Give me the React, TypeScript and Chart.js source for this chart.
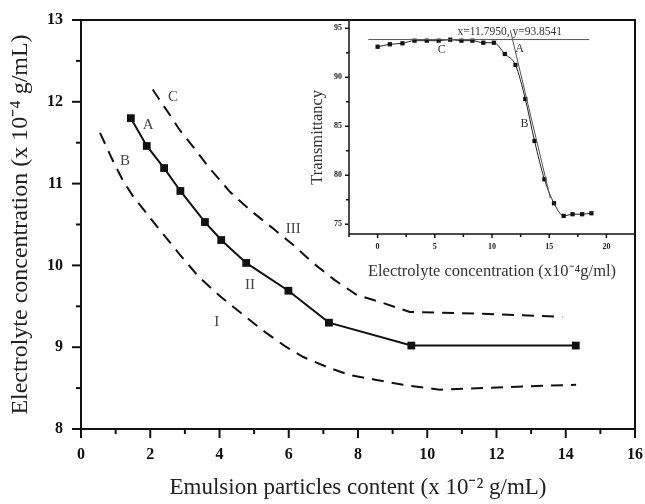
import React, { useEffect, useRef } from "react";
import { Chart, registerables } from "chart.js";

Chart.register(...registerables);

const SERIF = '"Liberation Serif", "Times New Roman", Times, serif';

// ---------- Main chart data ----------
// Curve I (dashed, lower boundary, "B")
const curveIx = [0.55, 0.93, 1.22, 1.51, 1.85, 2.3, 2.86, 3.4, 4.0, 4.7, 5.3, 5.9, 6.42, 7.09, 7.76, 8.53, 9.3, 10.36, 11.6, 12.77, 14.3];
const curveIy = [11.62, 11.27, 11.03, 10.84, 10.66, 10.42, 10.13, 9.86, 9.63, 9.39, 9.19, 9.01, 8.88, 8.76, 8.66, 8.6, 8.54, 8.48, 8.5, 8.52, 8.54];
// Curve II (solid with squares, "A")
const curveIIx = [1.44, 1.9, 2.4, 2.87, 3.58, 4.05, 4.77, 5.99, 7.16, 9.54, 14.29];
const curveIIy = [11.8, 11.46, 11.19, 10.91, 10.53, 10.31, 10.03, 9.69, 9.3, 9.02, 9.02];
// Curve III (dashed, upper boundary, "C")
const curveIIIx = [2.07, 2.47, 2.86, 3.24, 3.67, 4.3, 4.9, 5.55, 6.13, 6.7, 7.33, 7.96, 8.73, 9.5, 11.6, 13.9];
const curveIIIy = [12.15, 11.9, 11.65, 11.45, 11.21, 10.9, 10.67, 10.45, 10.25, 10.03, 9.82, 9.64, 9.54, 9.43, 9.41, 9.37];

const mainNoteText = ["A", "B", "C", "I", "II", "III"];
const mainNoteX = [1.94, 1.27, 2.66, 3.92, 4.88, 6.13];
const mainNoteY = [11.72, 11.27, 12.06, 9.31, 9.76, 10.45];

const mainXTitle = "Emulsion particles content (x 10\u207B\u00B2 g/mL)";
const mainYTitle = "Electrolyte concentration (x 10\u207B\u2074 g/mL)";

// ---------- Inset data ----------
const insetX = [0, 1.07, 2.17, 3.23, 4.3, 5.34, 6.35, 7.33, 8.29, 9.24, 10.16, 11.12, 12.05, 12.91, 13.72, 14.58, 15.42, 16.26, 17.04, 17.88, 18.69];
const insetY = [93.12, 93.37, 93.47, 93.74, 93.74, 93.74, 93.84, 93.74, 93.74, 93.53, 93.53, 92.38, 91.26, 87.79, 83.5, 79.59, 77.14, 75.85, 76.02, 76.02, 76.12];
const plateauX = [-0.81, 18.5];
const plateauY = [93.8541, 93.8541];
const tangentX = [11.6, 15.1];
const tangentY = [94.81, 77.66];

const insetNoteText = ["C", "A", "B", "x=11.7950, y=93.8541"];
const insetNoteX = [5.6, 12.42, 12.85, 11.55];
const insetNoteY = [92.8, 92.86, 85.2, 94.62];

const insetXTitle = "Electrolyte concentration (x10\u207B\u2074g/ml)";
const insetYTitle = "Transmittancy\u00A0\u00A0\u00A0\u00A0\u00A0";

const xy = (xs: number[], ys: number[]) => xs.map((x, i) => ({ x, y: ys[i] }));

const isMult = (v: number, step: number) => Math.abs(v / step - Math.round(v / step)) < 1e-6;

function framePlugin(o: {
  lw: number;
  xMajor: number;
  yMajor: number;
  major: number;
  minor: number;
  notes: { text: string[]; x: number[]; y: number[] };
  noteFont: (t: string) => string;
  noteColor: string;
}) {
  return {
    id: "frameTicksNotes",
    afterDraw(chart: any) {
      const { ctx, chartArea: a, scales } = chart;
      const xs = scales.x;
      const ys = scales.y;
      ctx.save();
      ctx.strokeStyle = "#111";
      ctx.lineWidth = o.lw;
      ctx.strokeRect(a.left, a.top, a.right - a.left, a.bottom - a.top);
      ctx.lineCap = "butt";
      xs.ticks.forEach((t: any) => {
        const p = xs.getPixelForValue(t.value);
        const len = isMult(t.value, o.xMajor) ? o.major : o.minor;
        ctx.beginPath();
        ctx.moveTo(p, a.bottom);
        ctx.lineTo(p, a.bottom + len);
        ctx.stroke();
      });
      ys.ticks.forEach((t: any) => {
        const p = ys.getPixelForValue(t.value);
        const len = isMult(t.value, o.yMajor) ? o.major : o.minor;
        ctx.beginPath();
        ctx.moveTo(a.left, p);
        ctx.lineTo(a.left - len, p);
        ctx.stroke();
      });
      ctx.fillStyle = o.noteColor;
      ctx.textAlign = "center";
      ctx.textBaseline = "middle";
      o.notes.text.forEach((txt, i) => {
        ctx.font = o.noteFont(txt);
        ctx.fillText(txt, xs.getPixelForValue(o.notes.x[i]), ys.getPixelForValue(o.notes.y[i]));
      });
      ctx.restore();
    },
  };
}

export default function App() {
  const mainRef = useRef<HTMLCanvasElement>(null);
  const insetRef = useRef<HTMLCanvasElement>(null);

  useEffect(() => {
    const main = new Chart(mainRef.current as HTMLCanvasElement, {
      type: "line",
      data: {
        datasets: [
          {
            label: "I",
            data: xy(curveIx, curveIy),
            borderColor: "#111",
            borderWidth: 2,
            borderDash: [12, 8],
            pointRadius: 0,
            tension: 0,
          },
          {
            label: "II",
            data: xy(curveIIx, curveIIy),
            borderColor: "#111",
            backgroundColor: "#111",
            borderWidth: 2,
            pointStyle: "rect",
            pointRadius: 5.5,
            pointBorderWidth: 0,
            pointBackgroundColor: "#111",
            tension: 0,
          },
          {
            label: "III",
            data: xy(curveIIIx, curveIIIy),
            borderColor: "#111",
            borderWidth: 2,
            borderDash: [12, 8],
            pointRadius: 0,
            tension: 0,
          },
        ],
      },
      options: {
        responsive: false,
        animation: false,
        layout: { padding: { top: 20, right: 10, left: 0, bottom: 0 } },
        plugins: { legend: { display: false }, tooltip: { enabled: false } },
        scales: {
          x: {
            type: "linear",
            min: 0,
            max: 16,
            grid: { display: false, drawTicks: false },
            border: { display: false },
            ticks: {
              stepSize: 1,
              autoSkip: false,
              includeBounds: false,
              maxRotation: 0,
              padding: 16,
              color: "#111",
              font: { family: SERIF, size: 16, weight: "bold" },
              callback: (v: any) => (isMult(Number(v), 2) ? String(v) : ""),
            },
            title: {
              display: true,
              text: mainXTitle,
              color: "#222",
              font: { family: SERIF, size: 23 },
              padding: { top: 0, bottom: 2 },
            },
            afterFit: (s: any) => {
              s.height = 75;
              s.paddingLeft = 0;
              s.paddingRight = 0;
            },
          },
          y: {
            type: "linear",
            min: 8,
            max: 13,
            grid: { display: false, drawTicks: false },
            border: { display: false },
            ticks: {
              stepSize: 0.5,
              autoSkip: false,
              includeBounds: false,
              padding: 18,
              color: "#111",
              font: { family: SERIF, size: 16, weight: "bold" },
              callback: (v: any) => (isMult(Number(v), 1) ? String(v) : ""),
            },
            title: {
              display: true,
              text: mainYTitle,
              color: "#222",
              font: { family: SERIF, size: 24 },
              padding: { top: 6, bottom: 0 },
            },
            afterFit: (s: any) => {
              s.width = 81;
              s.paddingTop = 0;
              s.paddingBottom = 0;
            },
          },
        },
      } as any,
      plugins: [
        framePlugin({
          lw: 2,
          xMajor: 2,
          yMajor: 1,
          major: 9,
          minor: 5,
          notes: { text: mainNoteText, x: mainNoteX, y: mainNoteY },
          noteFont: () => `15px ${SERIF}`,
          noteColor: "#444",
        }) as any,
      ],
    });

    const inset = new Chart(insetRef.current as HTMLCanvasElement, {
      type: "line",
      data: {
        datasets: [
          {
            label: "plateau",
            data: xy(plateauX, plateauY),
            borderColor: "#555",
            borderWidth: 1,
            pointRadius: 0,
          },
          {
            label: "tangent",
            data: xy(tangentX, tangentY),
            borderColor: "#555",
            borderWidth: 1,
            pointRadius: 0,
          },
          {
            label: "Transmittancy",
            data: xy(insetX, insetY),
            borderColor: "#222",
            backgroundColor: "#111",
            borderWidth: 1,
            pointStyle: "rect",
            pointRadius: 3,
            pointBorderWidth: 0,
            pointBackgroundColor: "#111",
            cubicInterpolationMode: "monotone",
          },
        ],
      },
      options: {
        responsive: false,
        animation: false,
        layout: { padding: { top: 20, right: 10, left: 0, bottom: 0 } },
        plugins: { legend: { display: false }, tooltip: { enabled: false } },
        scales: {
          x: {
            type: "linear",
            min: -2.5,
            max: 22.5,
            grid: { display: false, drawTicks: false },
            border: { display: false },
            ticks: {
              stepSize: 2.5,
              autoSkip: false,
              includeBounds: false,
              maxRotation: 0,
              padding: 8,
              color: "#222",
              font: { family: SERIF, size: 8, weight: "bold" },
              callback: (v: any) => (Number(v) >= 0 && isMult(Number(v), 5) ? String(v) : ""),
            },
            title: {
              display: true,
              text: insetXTitle,
              color: "#333",
              font: { family: SERIF, size: 16.5 },
              padding: { top: 0, bottom: 8 },
            },
            afterFit: (s: any) => {
              s.height = 56;
              s.paddingLeft = 0;
              s.paddingRight = 0;
            },
          },
          y: {
            type: "linear",
            min: 74,
            max: 95.85,
            grid: { display: false, drawTicks: false },
            border: { display: false },
            ticks: {
              stepSize: 2.5,
              autoSkip: false,
              includeBounds: false,
              padding: 7,
              color: "#222",
              font: { family: SERIF, size: 8, weight: "bold" },
              callback: (v: any) => (isMult(Number(v), 5) ? String(v) : ""),
            },
            title: {
              display: true,
              text: insetYTitle,
              color: "#333",
              font: { family: SERIF, size: 16.5 },
              padding: { top: 8, bottom: 0 },
            },
            afterFit: (s: any) => {
              s.width = 49;
              s.paddingTop = 0;
              s.paddingBottom = 0;
            },
          },
        },
      } as any,
      plugins: [
        framePlugin({
          lw: 1.5,
          xMajor: 5,
          yMajor: 5,
          major: 4,
          minor: 3,
          notes: { text: insetNoteText, x: insetNoteX, y: insetNoteY },
          noteFont: (t: string) => (t.length > 3 ? `11.5px ${SERIF}` : `12px ${SERIF}`),
          noteColor: "#333",
        }) as any,
      ],
    });

    return () => {
      main.destroy();
      inset.destroy();
    };
  }, []);

  return (
    <div style={{ position: "fixed", left: 0, top: 0, width: 645, height: 504, background: "#fff" }}>
      <canvas
        ref={mainRef}
        width={645}
        height={504}
        style={{ position: "absolute", left: 0, top: 0, width: 645, height: 504 }}
      />
      <canvas
        ref={insetRef}
        width={345}
        height={290}
        style={{ position: "absolute", left: 300, top: 0, width: 345, height: 290 }}
      />
    </div>
  );
}
